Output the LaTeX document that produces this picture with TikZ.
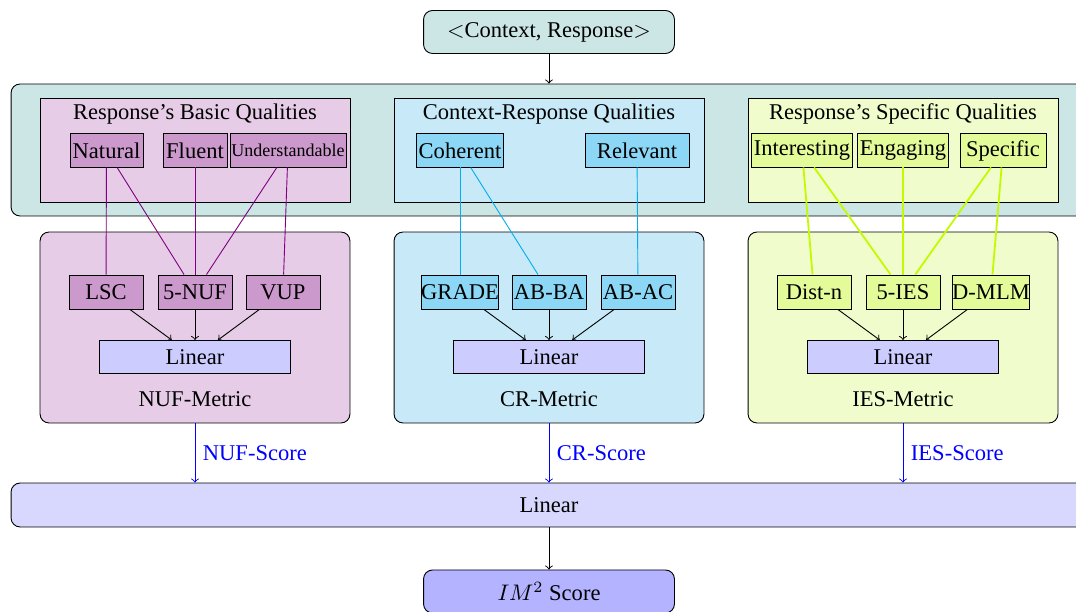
\documentclass[tikz,border=0pt]{standalone}
\usepackage{fontspec}
\setmainfont{Liberation Serif}
\definecolor{tealbg}{RGB}{204,230,230}
\definecolor{nufpan}{RGB}{230,204,230}
\definecolor{nufbox}{RGB}{204,153,204}
\definecolor{nufline}{RGB}{128,0,128}
\definecolor{crpan}{RGB}{199,233,248}
\definecolor{crbox}{RGB}{140,215,245}
\definecolor{crline}{RGB}{0,174,239}
\definecolor{iespan}{RGB}{240,252,204}
\definecolor{iesbox}{RGB}{227,252,153}
\definecolor{iesline}{RGB}{196,250,0}
\definecolor{linfill}{RGB}{204,204,255}
\definecolor{biglin}{RGB}{216,216,255}
\definecolor{scorefill}{RGB}{179,179,255}
\begin{document}
\begin{tikzpicture}[x=0.444pt,y=-0.444pt,
  qpanel/.style={draw,minimum width=137.6pt,minimum height=46.2pt},
  mpanel/.style={draw,rounded corners,minimum width=137.6pt,minimum height=84.8pt},
  qbox/.style={draw,inner sep=1pt,minimum height=14.7pt},
  mbox/.style={draw,inner xsep=0pt,minimum width=32.9pt,minimum height=15.1pt},
  linbox/.style={draw,fill=linfill,minimum width=84.8pt,minimum height=14.7pt},
  endbox/.style={draw,rounded corners,minimum width=111.4pt,minimum height=19.1pt}]
\useasboundingbox (0,0) rectangle (1076,612);

\node[endbox,fill=tealbg] (input) at (549,32) {$<$Context, Response$>$};
\node[draw,rounded corners,fill=tealbg,minimum width=477.7pt,minimum height=58.6pt] (quals) at (549,150) {};

\node[qpanel,fill=nufpan] (nufq) at (195,150) {};
\node[qpanel,fill=crpan] (crq) at (549,150) {};
\node[qpanel,fill=iespan] (iesq) at (903,150) {};
\node (nuft) at (195,114) {Response's Basic Qualities};
\node (crt) at (549,114) {Context-Response Qualities};
\node (iest) at (903,114) {Response's Specific Qualities};

\node[qbox,fill=nufbox,minimum width=32.4pt] (natural) at (106.5,150.5) {Natural};
\node[qbox,fill=nufbox,minimum width=28.4pt] (fluent) at (195,150.5) {Fluent};
\node[qbox,fill=nufbox,minimum width=51.5pt,inner xsep=0.5pt] (underst) at (288,150.5) {\footnotesize Understandable};
\node[qbox,fill=crbox,minimum width=38.2pt] (coherent) at (460,150.5) {Coherent};
\node[qbox,fill=crbox,minimum width=46.2pt] (relevant) at (637,150.5) {Relevant};
\node[qbox,fill=iesbox,minimum width=43.5pt] (interest) at (802,150.5) {Interesting};
\node[qbox,fill=iesbox,minimum width=38.2pt] (engaging) at (903,150.5) {Engaging};
\node[qbox,fill=iesbox,minimum width=38.2pt] (specific) at (1003,150.5) {Specific};

\node[mpanel,fill=nufpan] (nufm) at (195,327.5) {};
\node[mpanel,fill=crpan] (crm) at (549,327.5) {};
\node[mpanel,fill=iespan] (iesm) at (903,327.5) {};

\node[mbox,fill=nufbox] (lsc) at (106,292) {LSC};
\node[mbox,fill=nufbox] (nuf5) at (195,292) {5-NUF};
\node[mbox,fill=nufbox] (vup) at (283,292) {VUP};
\node[mbox,fill=crbox] (grade) at (460,292) {GRADE};
\node[mbox,fill=crbox] (abba) at (549,292) {AB-BA};
\node[mbox,fill=crbox] (abac) at (638,292) {AB-AC};
\node[mbox,fill=iesbox] (distn) at (814,292) {Dist-n};
\node[mbox,fill=iesbox] (ies5) at (903,292) {5-IES};
\node[mbox,fill=iesbox] (dmlm) at (991,292) {D-MLM};

\node[linbox] (nuflin) at (195,357) {Linear};
\node[linbox] (crlin) at (549,357) {Linear};
\node[linbox] (ieslin) at (903,357) {Linear};
\node (nuflab) at (195,399) {NUF-Metric};
\node (crlab) at (549,399) {CR-Metric};
\node (ieslab) at (903,399) {IES-Metric};

\node[draw,rounded corners,fill=biglin,minimum width=477.7pt,minimum height=19.5pt] (final) at (549,505) {Linear};
\node[endbox,fill=scorefill] (score) at (549,591.5) {$IM^2$ Score};

\draw[->] (input) -- (quals);
\draw[nufline] (natural) -- (lsc);
\draw[nufline] (natural) -- (nuf5);
\draw[nufline] (fluent) -- (nuf5);
\draw[nufline] (underst) -- (nuf5);
\draw[nufline] (underst) -- (vup);
\draw[crline] (coherent) -- (grade);
\draw[crline] (coherent) -- (abba);
\draw[crline] (relevant) -- (abac);
\draw[iesline,thick] (interest) -- (distn);
\draw[iesline,thick] (interest) -- (ies5);
\draw[iesline,thick] (engaging) -- (ies5);
\draw[iesline,thick] (specific) -- (ies5);
\draw[iesline,thick] (specific) -- (dmlm);

\draw[->] (lsc) -- (nuflin);
\draw[->] (nuf5) -- (nuflin);
\draw[->] (vup) -- (nuflin);
\draw[->] (grade) -- (crlin);
\draw[->] (abba) -- (crlin);
\draw[->] (abac) -- (crlin);
\draw[->] (distn) -- (ieslin);
\draw[->] (ies5) -- (ieslin);
\draw[->] (dmlm) -- (ieslin);

\draw[->,blue] (nufm) -- (nufm.south |- final.north) node[midway,right] {NUF-Score};
\draw[->,blue] (crm) -- (crm.south |- final.north) node[midway,right] {CR-Score};
\draw[->,blue] (iesm) -- (iesm.south |- final.north) node[midway,right] {IES-Score};
\draw[->] (final) -- (score);
\end{tikzpicture}
\end{document}
